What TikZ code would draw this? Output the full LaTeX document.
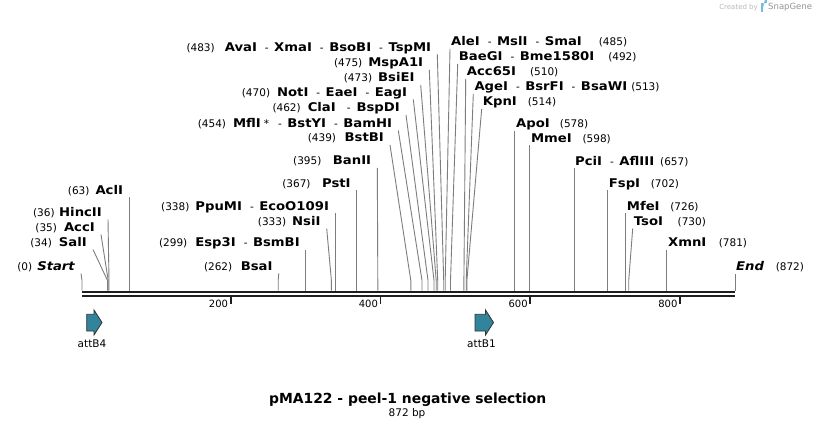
\documentclass[tikz,border=0pt]{standalone}
\usepackage{fontspec}
\setmainfont{DejaVu Sans}
\newfontfamily\namefont[FakeStretch=1.1]{DejaVu Sans}
\usetikzlibrary{calc}
\definecolor{leadc}{RGB}{125,125,125}
\definecolor{bbc}{RGB}{30,30,30}
\definecolor{featc}{RGB}{49,132,155}
\definecolor{featd}{RGB}{50,50,50}
\definecolor{wmc}{RGB}{185,185,185}
\definecolor{wmlogo}{RGB}{120,185,230}
\newcommand{\nm}[1]{{\namefont\bfseries\fontsize{12}{13}\selectfont #1}}
\newcommand{\sepd}{\hspace{8pt}-\hspace{5.5pt}}
% left label: id, east x, centre y, number, names, cut x, gap
\newcommand{\LL}[7]{%
  \node[lab,anchor=east] (L#1) at (#2,#3) {(#4)\hspace{#7pt}#5};
  \coordinate (c#1) at (#6,290.5);
  \draw[lead] (c#1) -- ++(0,-10) -- ($(L#1.east)+(6,6.5)$);}
% right label: id, west x, centre y, names, gap, number, cut x
\newcommand{\RL}[7]{%
  \node[lab,anchor=west] (L#1) at (#2,#3) {#4\hspace{#5pt}(#6)};
  \coordinate (c#1) at (#7,290.5);
  \draw[lead] (c#1) -- ++(0,-10) -- ($(L#1.west)+(-1,6.5)$);}
\begin{document}
\begin{tikzpicture}[x=1pt,y=-1pt,
  lab/.style={inner sep=0pt,text height=8.5pt,text depth=2pt,font=\fontsize{10.5}{12}\selectfont},
  lead/.style={draw=leadc,line width=0.9pt},
  bbline/.style={draw=bbc,line width=2.4pt},
  tickmark/.style={draw=bbc,line width=1.8pt},
  ticklab/.style={inner sep=0pt,font=\fontsize{10}{12}\selectfont},
  feat/.style={fill=featc,draw=featd,line width=0.8pt,line join=miter},
  featlab/.style={inner sep=0pt,font=\fontsize{10.5}{12}\selectfont}]
\useasboundingbox (0,0) rectangle (818,430);
\fill[white] (0,0) rectangle (818,430);

% watermark
\node[inner sep=0pt,anchor=east,text=wmc,font=\fontsize{7}{8}\selectfont] (wm1) at (758,7.5) {Created by};
\fill[wmlogo] (760.5,3.5) rectangle (763,12.5);
\fill[wmlogo] (763,3.5) -- (765,3.5) arc (90:-90:2.2) -- (763,7.9) -- cycle;
\node[inner sep=0pt,anchor=west,text=wmc!80!black,font=\fontsize{8.5}{9}\selectfont] (wm2) at (768,7.5) {SnapGene};

% left labels
\LL{s0}{75}{267}{0}{\nm{\itshape Start}}{82}{5}
\LL{s34}{87}{243}{34}{\nm{SalI}}{107.5}{7}
\LL{s35}{95}{228}{35}{\nm{AccI}}{108.2}{7}
\LL{s36}{102}{213}{36}{\nm{HincII}}{109}{4.5}
\LL{s63}{123.2}{191}{63}{\nm{AclI}}{129.2}{6}
\LL{s262}{272.7}{267}{262}{\nm{BsaI}}{278.2}{8.5}
\LL{s299}{299.9}{243}{299}{\nm{Esp3I}\sepd\nm{BsmBI}}{305.9}{8}
\LL{s333}{320.7}{222}{333}{\nm{NsiI}}{331.4}{6}
\LL{s338}{329.1}{207}{338}{\nm{PpuMI}\sepd\nm{EcoO109I}}{335.1}{6}
\LL{s367}{350.8}{184}{367}{\nm{PstI}}{356.8}{11.5}
\LL{s395}{371.3}{161.5}{395}{\nm{BanII}}{377.8}{11.5}
\LL{s439}{384}{138.5}{439}{\nm{BstBI}}{410.8}{8.5}
\LL{s454}{392.3}{124}{454}{\nm{MflI}\hspace{3pt}*\hspace{9pt}-\hspace{5.5pt}\nm{BstYI}\sepd\nm{BamHI}}{422}{7}
\LL{s462}{400}{108.5}{462}{\nm{ClaI}\hspace{11pt}-\hspace{6pt}\nm{BspDI}}{428}{7}
\LL{s470}{407.3}{93}{470}{\nm{NotI}\sepd\nm{EaeI}\sepd\nm{EagI}}{434}{7}
\LL{s473}{414.7}{78.5}{473}{\nm{BsiEI}}{436.2}{6}
\LL{s475}{423.3}{63.5}{475}{\nm{MspA1I}}{437.7}{6}
\LL{s483}{431.3}{48}{483}{\nm{AvaI}\sepd\nm{XmaI}\sepd\nm{BsoBI}\sepd\nm{TspMI}}{443.7}{10}

% right labels
\RL{s485}{451}{42.5}{\nm{AleI}\sepd\nm{MslI}\sepd\nm{SmaI}}{17}{485}{445.2}
\RL{s492}{458.7}{57.5}{\nm{BaeGI}\sepd\nm{Bme1580I}}{14}{492}{450.5}
\RL{s510}{466.7}{72.3}{\nm{Acc65I}}{14}{510}{463.9}
\RL{s513}{474.3}{87.3}{\nm{AgeI}\sepd\nm{BsrFI}\sepd\nm{BsaWI}}{4}{513}{466.2}
\RL{s514}{482.7}{102.3}{\nm{KpnI}}{11}{514}{466.9}
\RL{s578}{515.9}{124.5}{\nm{ApoI}}{10.2}{578}{514.9}
\RL{s598}{530.9}{139}{\nm{MmeI}}{10.7}{598}{529.9}
\RL{s657}{575}{162}{\nm{PciI}\sepd\nm{AflIII}}{6}{657}{574}
\RL{s702}{608.7}{184}{\nm{FspI}}{10.7}{702}{607.7}
\RL{s726}{626.7}{207}{\nm{MfeI}}{10.7}{726}{625.7}
\RL{s730}{633.7}{222}{\nm{TsoI}}{14.7}{730}{628.7}
\RL{s781}{667.9}{243}{\nm{XmnI}}{12.5}{781}{666.9}
\RL{s872}{736}{267}{\nm{\itshape End}}{11.7}{872}{735}

% backbone
\coordinate (bbL1) at (82,292.2);
\coordinate (bbR1) at (735,292.2);
\coordinate (bbL2) at (82,296.2);
\coordinate (bbR2) at (735,296.2);
\draw[bbline] (bbL1) -- (bbR1);
\draw[bbline] (bbL2) -- (bbR2);

% ticks
\foreach \v in {200,400,600,800}{
  \coordinate (t\v) at ({82+\v*0.7489-1},297);
  \draw[tickmark] (t\v) -- ++(0,7);
  \node[ticklab,anchor=east] (tl\v) at ($(t\v)+(-2.5,7)$) {\v};
}

% features
\draw[feat] (86.7,314.3) -- (94,314.3) -- (94,310) -- (102,322.5) -- (94,335) -- (94,331) -- (86.7,331) -- cycle;
\node[featlab] (fB4) at (92,343.5) {attB4};
\draw[feat] (475,314.3) -- (485.5,314.3) -- (485.5,310) -- (493.5,322.5) -- (485.5,335) -- (485.5,331) -- (475,331) -- cycle;
\node[featlab] (fB1) at (481.5,343.5) {attB1};

% title
\node[inner sep=0pt,font=\bfseries\fontsize{13.9}{16}\selectfont] (title) at (407.7,399.5) {pMA122 - peel-1 negative selection};
\node[inner sep=0pt,font=\fontsize{10.5}{12}\selectfont] (len) at (407,414) {872 bp};
\end{tikzpicture}
\end{document}
